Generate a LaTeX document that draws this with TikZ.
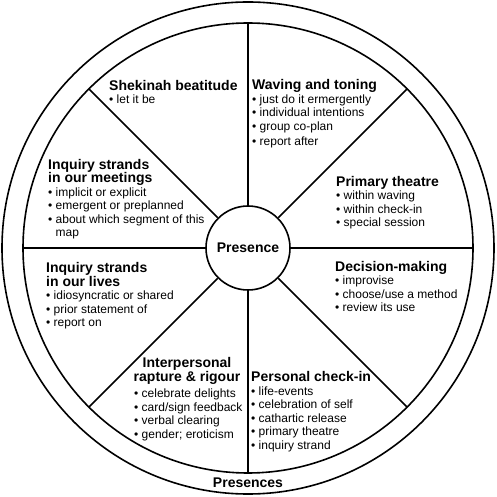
\documentclass[tikz,border=0pt]{standalone}
\usepackage{fontspec}
\setmainfont{Liberation Sans}
\usetikzlibrary{positioning}
\newcommand{\head}[1]{{\fontsize{14}{15}\selectfont\bfseries #1}}
\tikzset{
  ring/.style={line width=1.6pt},
  sector/.style={anchor=base west, align=left, inner sep=0pt, font=\fontsize{12}{13.5}\selectfont},
}

\begin{document}
\begin{tikzpicture}[x=1pt, y=1pt]
  \useasboundingbox (-248,-249) rectangle (249,248);
  \def\Ro{246}
  \def\Ri{225}

  \draw[ring] (0,0) circle (\Ro);
  \draw[ring] (0,0) circle (\Ri);
  \node[ring, draw, circle, minimum size=84pt, inner sep=0pt, font=\fontsize{14}{15}\selectfont\bfseries] (hub) at (0,0) {Presence};
  \foreach \a in {0,45,...,315} {
    \coordinate (rim\a) at (\a:\Ri);
    \draw[ring] (hub.\a) -- (rim\a);
  }

  % sector texts, placed by the baseline of their last line
  \node[sector] (shekinah) at (-139,144) {\head{Shekinah beatitude}\\ • let it be};
  \node[sector] (waving) at (4,102) {\head{Waving and toning}\\ • just do it ermergently\\ • individual intentions\\ • group co-plan\\[2pt] • report after};
  \node[sector] (meetings) at (-200,11) {\head{Inquiry strands}\\ \head{in our meetings}\\ • implicit or explicit\\ • emergent or preplanned\\ • about which segment of this\\ \hphantom{• }map};
  \node[sector] (primary) at (88,21) {\head{Primary theatre}\\ • within waving\\ • within check-in\\ • special session};
  \node[sector] (lives) at (-202,-79) {\head{Inquiry strands}\\ \head{in our lives}\\ • idiosyncratic or shared\\ • prior statement of\\ • report on};
  \node[sector] (decision) at (87,-64) {\head{Decision-making}\\ • improvise\\ • choose/use a method\\ • review its use};
  \node[sector, anchor=base, align=center] (interhead) at (-61,-133) {\head{Interpersonal}\\ \head{rapture \& rigour}};
  \node[sector] (interlist) at (-114,-190) {• celebrate delights\\ • card/sign feedback\\ • verbal clearing\\ • gender; eroticism};
  \node[sector] (personal) at (3,-201) {\head{Personal check-in}\\ • life-events\\ • celebration of self\\ • cathartic release\\ • primary theatre\\ • inquiry strand};

  \node[anchor=base, inner sep=0pt, font=\fontsize{14}{15}\selectfont\bfseries] (presences) at (0,-239) {Presences};
\end{tikzpicture}
\end{document}
